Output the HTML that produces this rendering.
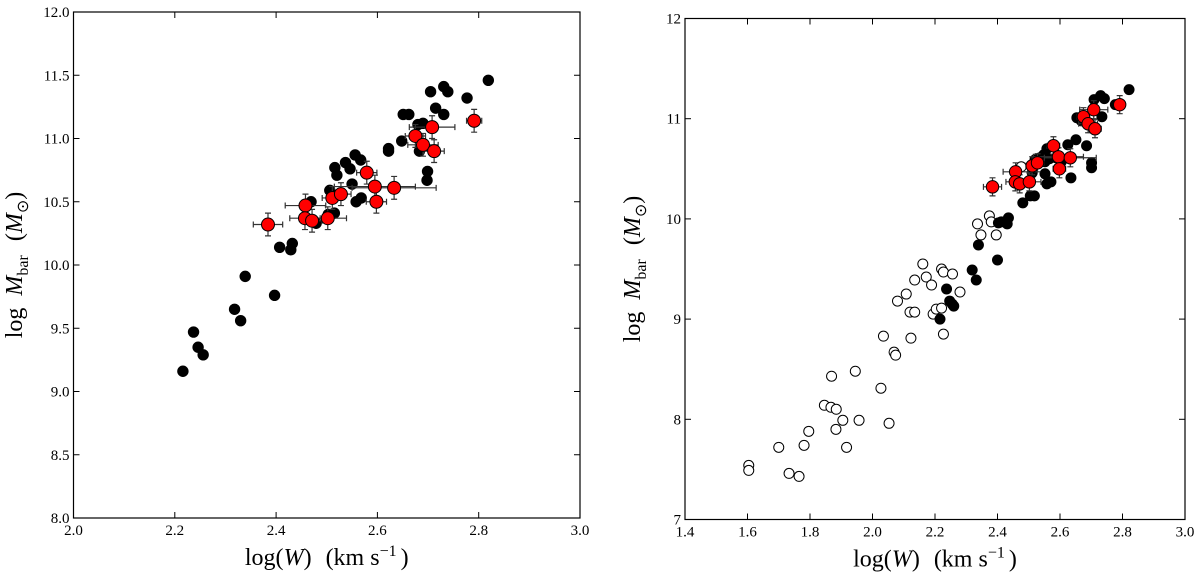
<!DOCTYPE html>
<html><head><meta charset="utf-8">
<style>
html,body{margin:0;padding:0;background:#fff;width:1200px;height:577px;overflow:hidden}
svg text{font-family:"Liberation Serif",serif;fill:#000}
</style></head>
<body>
<svg id="fig" width="1200" height="577" xmlns="http://www.w3.org/2000/svg"></svg>
<script>
// Left panel data
const leftBlackX=[2.216,2.237,2.246,2.256,2.318,2.330,2.339,2.397,2.407,2.429,2.432,2.469,2.479,2.506,2.516,2.520,2.515,2.503,2.537,2.546,2.550,2.556,2.567,2.558,2.568,2.622,2.622,2.648,2.651,2.662,2.680,2.690,2.683,2.699,2.698,2.705,2.715,2.731,2.731,2.739,2.777,2.819];
const leftBlackY=[9.16,9.47,9.35,9.29,9.65,9.56,9.91,9.76,10.14,10.12,10.17,10.50,10.33,10.59,10.77,10.71,10.41,10.40,10.81,10.76,10.64,10.87,10.83,10.50,10.53,10.92,10.90,10.98,11.19,11.19,11.11,11.12,10.90,10.74,10.67,11.37,11.24,11.19,11.41,11.37,11.32,11.46];
// Red sample (both panels)
const redX=[2.384,2.458,2.457,2.471,2.502,2.511,2.528,2.579,2.595,2.598,2.633,2.675,2.708,2.690,2.712,2.791];
const redY=[10.32,10.47,10.37,10.35,10.37,10.53,10.56,10.73,10.62,10.50,10.61,11.02,11.09,10.95,10.90,11.14];
const redXerr=[0.029,0.04,0.03,0.02,0.037,0.02,0.02,0.02,0.08,0.02,0.083,0.02,0.045,0.03,0.02,0.015];
const redYerr=[0.09,0.09,0.09,0.09,0.09,0.09,0.09,0.09,0.09,0.09,0.09,0.09,0.09,0.09,0.09,0.09];
// Right panel data
const rightOpenX=[1.604,1.604,1.700,1.733,1.765,1.781,1.796,1.846,1.869,1.867,1.884,1.883,1.905,1.917,1.945,1.957,2.027,2.035,2.053,2.069,2.074,2.080,2.108,2.123,2.120,2.135,2.135,2.161,2.172,2.189,2.194,2.204,2.221,2.221,2.227,2.227,2.256,2.280,2.336,2.347,2.374,2.380,2.396,2.476];
const rightOpenY=[7.54,7.49,7.72,7.46,7.43,7.74,7.88,8.14,8.43,8.12,8.10,7.90,7.99,7.72,8.48,7.99,8.31,8.83,7.96,8.67,8.64,9.18,9.25,8.81,9.07,9.07,9.39,9.55,9.42,9.34,9.05,9.10,9.11,9.50,9.47,8.85,9.45,9.27,9.95,9.84,10.03,9.97,9.84,10.52];
const rightBlackX=[2.216,2.237,2.247,2.255,2.260,2.319,2.332,2.339,2.400,2.403,2.412,2.429,2.435,2.431,2.481,2.505,2.518,2.511,2.520,2.530,2.536,2.548,2.558,2.552,2.566,2.552,2.558,2.571,2.587,2.604,2.625,2.651,2.635,2.654,2.668,2.685,2.701,2.701,2.709,2.730,2.742,2.734,2.777,2.821];
const rightBlackY=[9.00,9.30,9.18,9.15,9.13,9.49,9.39,9.74,9.59,9.96,9.97,9.98,10.01,9.95,10.16,10.23,10.23,10.46,10.59,10.55,10.61,10.64,10.70,10.57,10.60,10.45,10.35,10.37,10.61,10.57,10.74,10.79,10.41,11.01,10.98,10.73,10.56,10.51,11.19,11.23,11.20,11.02,11.14,11.29];
const leftXTicks=["2.0","2.2","2.4","2.6","2.8","3.0"];
const leftYTicks=["8.0","8.5","9.0","9.5","10.0","10.5","11.0","11.5","12.0"];
const rightXTicks=["1.4","1.6","1.8","2.0","2.2","2.4","2.6","2.8","3.0"];
const rightYTicks=["7","8","9","10","11","12"];

const NS="http://www.w3.org/2000/svg";
const svg=document.getElementById('fig');
function mk(tag,attrs,parent){const e=document.createElementNS(NS,tag);for(const k in attrs)e.setAttribute(k,attrs[k]);(parent||svg).appendChild(e);return e;}

function panel(name,box,xr,yr,xt,yt,ytitleX){
  const g=mk('g',{});
  
  
  const sx=v=>box.x0+(v-xr[0])/(xr[1]-xr[0])*(box.x1-box.x0);
  const sy=v=>box.y1-(v-yr[0])/(yr[1]-yr[0])*(box.y1-box.y0);
  const frame=mk('rect',{x:box.x0,y:box.y0,width:box.x1-box.x0,height:box.y1-box.y0,fill:'none',stroke:'#000','stroke-width':1.2},g);
  
  
  xt.forEach(t=>{const v=parseFloat(t),x=sx(v);
    mk('line',{x1:x,x2:x,y1:box.y1,y2:box.y1-6,stroke:'#000'},g);
    mk('line',{x1:x,x2:x,y1:box.y0,y2:box.y0+6,stroke:'#000'},g);
    const tx=mk('text',{x:x,y:box.y1+17,'font-size':15,'text-anchor':'middle'},g);tx.textContent=t;
    
    
  });
  yt.forEach(t=>{const v=parseFloat(t),y=sy(v);
    mk('line',{x1:box.x0,x2:box.x0+6,y1:y,y2:y,stroke:'#000'},g);
    mk('line',{x1:box.x1,x2:box.x1-6,y1:y,y2:y,stroke:'#000'},g);
    const tx=mk('text',{x:box.x0-4,y:y+5,'font-size':15,'text-anchor':'end'},g);tx.textContent=t;
    
    
  });
  const xl=mk('text',{x:(box.x0+box.x1)/2,y:box.y1+47,'font-size':24,'text-anchor':'middle'},g);
  xl.innerHTML='log(<tspan font-style="italic">W</tspan>)<tspan dx="14">(km</tspan><tspan dx="6">s</tspan><tspan dy="-9" font-size="16">−1</tspan><tspan dy="9" dx="4">)</tspan>';
  
  
  const cy=(box.y0+box.y1)/2;
  const yl=mk('text',{x:ytitleX,y:cy,'font-size':24,'text-anchor':'middle',transform:`rotate(-90 ${ytitleX} ${cy})`},g);
  yl.innerHTML='log<tspan dx="12" font-style="italic">M</tspan><tspan dy="6" font-size="16">bar</tspan><tspan dy="-6" dx="14">(</tspan><tspan font-style="italic">M</tspan><tspan dy="6" font-size="16">⊙</tspan><tspan dy="-6">)</tspan>';
  
  
  return {g,sx,sy};
}
function dots(p,xs,ys,r,fill,nm){
  xs.forEach((v,i)=>{const c=mk('circle',{cx:p.sx(v),cy:p.sy(ys[i]),r:r,fill:fill,stroke:'#000','stroke-width':1},p.g);
    
    });
}
function reds(p,r){
  redX.forEach((v,i)=>{const x=p.sx(v),y=p.sy(redY[i]);
    const xa=p.sx(v-redXerr[i]),xb=p.sx(v+redXerr[i]),ya=p.sy(redY[i]-redYerr[i]),yb=p.sy(redY[i]+redYerr[i]);
    const e=mk('path',{d:`M${xa},${y}H${xb}M${x},${ya}V${yb}M${xa},${y-3}V${y+3}M${xb},${y-3}V${y+3}M${x-3},${ya}H${x+3}M${x-3},${yb}H${x+3}`,stroke:'#333','stroke-width':1.2,fill:'none'},p.g);
    
    
  });
  dots(p,redX,redY,r,'#f00','red-point');
}
const L=panel('left-panel',{x0:73.5,x1:580,y0:12,y1:518},[2,3],[8,12],leftXTicks,leftYTicks,22);
dots(L,leftBlackX,leftBlackY,5.2,'#000','black-point');
reds(L,6.5);
const R=panel('right-panel',{x0:685,x1:1185,y0:18.5,y1:519.5},[1.4,3],[7,12],rightXTicks,rightYTicks,640);
dots(R,rightOpenX,rightOpenY,5,'#fff','open-point');
dots(R,rightBlackX,rightBlackY,5,'#000','black-point');
reds(R,6.2);
</script>
</body></html>
